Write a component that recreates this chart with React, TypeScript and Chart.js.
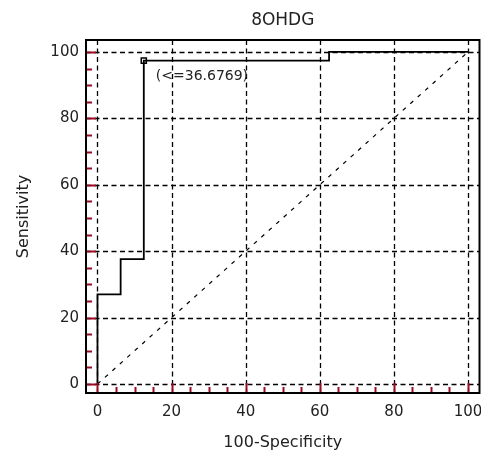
import React, { useEffect, useRef } from "react";
import { Chart, registerables } from "chart.js";

Chart.register(...registerables);

// ---- data ----
const TITLE = "8OHDG";
const X_TITLE = "100-Specificity";
const Y_TITLE = "Sensitivity";
const ROC_X = [0, 0, 6.25, 12.5, 62.5, 100];
const ROC_Y = [0, 27, 37.6, 97.4, 100, 100];
const DIAG_X = [0, 100];
const DIAG_Y = [0, 100];
const CUT_X = [12.5];
const CUT_Y = [97.4];
const CUT_LABEL = "(<=36.6769)";
const TICK_VALUES = [0, 20, 40, 60, 80, 100];
const MINOR_TICK_VALUES = [0, 5, 10, 15, 20, 25, 30, 35, 40, 45, 50, 55, 60, 65, 70, 75, 80, 85, 90, 95, 100];

const FONT = "'DejaVu Sans', Verdana, sans-serif";
const TEXT = "#222";
const RED = "#9a0a22";

const framePlugin = {
  id: "rocFrame",
  beforeDatasetsDraw(chart: any) {
    const { ctx, chartArea } = chart;
    const xs = chart.scales.x;
    const ys = chart.scales.y;
    ctx.save();
    ctx.strokeStyle = "#000";
    ctx.lineWidth = 1.3;
    ctx.setLineDash([5, 3.5]);
    TICK_VALUES.forEach((v) => {
      const px = Math.round(xs.getPixelForValue(v)) + 0.5;
      ctx.beginPath();
      ctx.moveTo(px, chartArea.top);
      ctx.lineTo(px, chartArea.bottom);
      ctx.stroke();
      const py = Math.round(ys.getPixelForValue(v)) + 0.5;
      ctx.beginPath();
      ctx.moveTo(chartArea.left, py);
      ctx.lineTo(chartArea.right, py);
      ctx.stroke();
    });
    ctx.restore();
  },
  afterDatasetsDraw(chart: any) {
    const { ctx, chartArea } = chart;
    const xs = chart.scales.x;
    const ys = chart.scales.y;
    ctx.save();
    // red ticks
    ctx.strokeStyle = RED;
    ctx.lineWidth = 2;
    MINOR_TICK_VALUES.forEach((v) => {
      const len = v % 20 === 0 ? 10 : 6;
      const py = Math.round(ys.getPixelForValue(v)) + 0.5;
      ctx.beginPath();
      ctx.moveTo(chartArea.left, py);
      ctx.lineTo(chartArea.left + len, py);
      ctx.stroke();
      const px = Math.round(xs.getPixelForValue(v)) + 0.5;
      ctx.beginPath();
      ctx.moveTo(px, chartArea.bottom);
      ctx.lineTo(px, chartArea.bottom - len);
      ctx.stroke();
    });
    // frame
    ctx.strokeStyle = "#000";
    ctx.lineWidth = 2;
    ctx.strokeRect(chartArea.left, chartArea.top, chartArea.right - chartArea.left, chartArea.bottom - chartArea.top);
    // cutoff label
    const meta = chart.getDatasetMeta(2);
    const pt = meta && meta.data && meta.data[0];
    if (pt) {
      ctx.fillStyle = TEXT;
      ctx.font = `14px ${FONT}`;
      ctx.textAlign = "left";
      ctx.textBaseline = "middle";
      ctx.fillText(CUT_LABEL, pt.x + 12, pt.y + 16);
    }
    ctx.restore();
  },
};

export default function App() {
  const ref = useRef<HTMLCanvasElement | null>(null);
  useEffect(() => {
    if (!ref.current) return;
    const chart = new Chart(ref.current, {
      type: "scatter",
      data: {
        datasets: [
          {
            label: "diag",
            data: DIAG_X.map((x, i) => ({ x, y: DIAG_Y[i] })),
            showLine: true,
            borderColor: "#000",
            borderWidth: 1.2,
            borderDash: [4, 6],
            pointRadius: 0,
            fill: false,
          },
          {
            label: "roc",
            data: ROC_X.map((x, i) => ({ x, y: ROC_Y[i] })),
            showLine: true,
            stepped: true,
            borderColor: "#000",
            borderWidth: 1.8,
            pointRadius: 0,
            fill: false,
          },
          {
            label: "cut",
            data: CUT_X.map((x, i) => ({ x, y: CUT_Y[i] })),
            showLine: false,
            pointStyle: "rect",
            pointRadius: 3.6,
            pointBorderWidth: 1.5,
            pointBorderColor: "#000",
            pointBackgroundColor: "#fff",
          },
        ],
      },
      options: {
        responsive: false,
        animation: false,
        layout: { autoPadding: false, padding: { top: 0, left: 0, right: 1.5, bottom: 0 } },
        plugins: {
          legend: { display: false },
          tooltip: { enabled: false },
          title: {
            display: true,
            text: TITLE,
            fullSize: false,
            color: TEXT,
            font: { family: FONT, size: 17, weight: "normal" },
            padding: { top: 10, bottom: 9.6 },
          },
        },
        scales: {
          x: {
            type: "linear",
            min: -3.1,
            max: 103.1,
            afterBuildTicks: (axis: any) => {
              axis.ticks = TICK_VALUES.map((v) => ({ value: v }));
            },
            afterFit: (axis: any) => {
              axis.height = 63;
              axis.paddingLeft = 0;
              axis.paddingRight = 0;
            },
            grid: { display: false, drawTicks: false },
            border: { display: false },
            ticks: {
              padding: 10,
              color: TEXT,
              font: { family: FONT, size: 15 },
              maxRotation: 0,
            },
            title: {
              display: true,
              text: X_TITLE,
              color: TEXT,
              font: { family: FONT, size: 16 },
              padding: { top: 0, bottom: 3.4 },
            },
          },
          y: {
            type: "linear",
            min: -2.7,
            max: 103.6,
            afterBuildTicks: (axis: any) => {
              axis.ticks = TICK_VALUES.map((v) => ({ value: v }));
            },
            afterFit: (axis: any) => {
              axis.width = 86;
              axis.paddingTop = 0;
              axis.paddingBottom = 0;
            },
            grid: { display: false, drawTicks: false },
            border: { display: false },
            ticks: {
              padding: 7,
              color: TEXT,
              font: { family: FONT, size: 15 },
            },
            title: {
              display: true,
              text: Y_TITLE,
              color: TEXT,
              font: { family: FONT, size: 16 },
              padding: { top: 14, bottom: 0 },
            },
          },
        },
      },
      plugins: [framePlugin],
    } as any);
    return () => chart.destroy();
  }, []);
  return (
    <div style={{ position: "absolute", left: 0, top: 0, width: 481, height: 456, background: "#fff" }}>
      <canvas ref={ref} width={481} height={456} style={{ display: "block" }} />
    </div>
  );
}
